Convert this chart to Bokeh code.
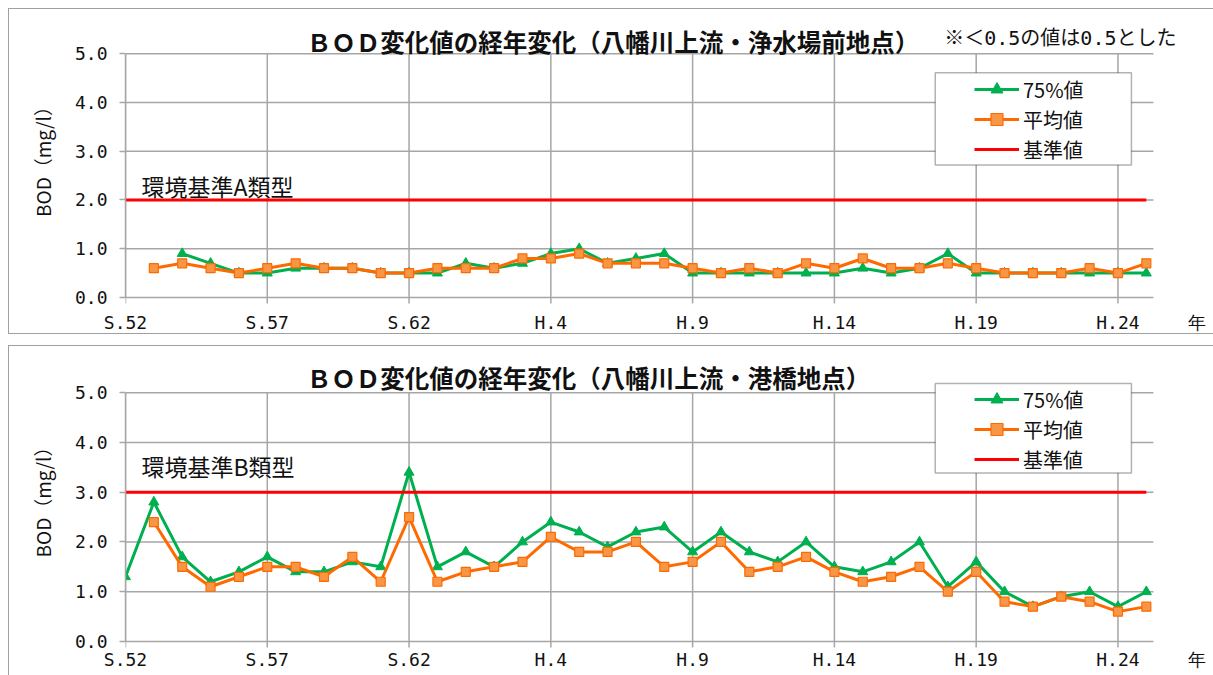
from bokeh.plotting import figure
from bokeh.models import Range1d, FixedTicker, Label, Legend, LegendItem, BoxAnnotation, Spacer
from bokeh.layouts import column, row
from bokeh.embed import file_html
from bokeh.resources import INLINE

nan = float("nan")

# ---------------- data ----------------
years = list(range(1977, 2014))          # S.52 ... H.25
tick_years = [1977, 1982, 1987, 1992, 1997, 2002, 2007, 2012]
tick_labels = ["S.52", "S.57", "S.62", "H.4", "H.9", "H.14", "H.19", "H.24"]
unit_label = "年"
y_ticks = [0, 1, 2, 3, 4, 5]
y_tick_labels = ["0.0", "1.0", "2.0", "3.0", "4.0", "5.0"]

# 八幡川上流・浄水場前地点
top_p75 = [nan, nan, 0.9, 0.7, 0.5, 0.5, 0.6, 0.6, 0.6, 0.5, 0.5,
           0.5, 0.7, 0.6, 0.7, 0.9, 1.0, 0.7, 0.8, 0.9, 0.5,
           0.5, 0.5, 0.5, 0.5, 0.5, 0.6, 0.5, 0.6, 0.9, 0.5,
           0.5, 0.5, 0.5, 0.5, 0.5, 0.5]
top_avg = [nan, 0.6, 0.7, 0.6, 0.5, 0.6, 0.7, 0.6, 0.6, 0.5, 0.5,
           0.6, 0.6, 0.6, 0.8, 0.8, 0.9, 0.7, 0.7, 0.7, 0.6,
           0.5, 0.6, 0.5, 0.7, 0.6, 0.8, 0.6, 0.6, 0.7, 0.6,
           0.5, 0.5, 0.5, 0.6, 0.5, 0.7]
top_std = [2.0] * 37

# 八幡川上流・港橋地点
bot_p75 = [1.3, 2.8, 1.7, 1.2, 1.4, 1.7, 1.4, 1.4, 1.6, 1.5, 3.4,
           1.5, 1.8, 1.5, 2.0, 2.4, 2.2, 1.9, 2.2, 2.3, 1.8,
           2.2, 1.8, 1.6, 2.0, 1.5, 1.4, 1.6, 2.0, 1.1, 1.6,
           1.0, 0.7, 0.9, 1.0, 0.7, 1.0]
bot_avg = [nan, 2.4, 1.5, 1.1, 1.3, 1.5, 1.5, 1.3, 1.7, 1.2, 2.5,
           1.2, 1.4, 1.5, 1.6, 2.1, 1.8, 1.8, 2.0, 1.5, 1.6,
           2.0, 1.4, 1.5, 1.7, 1.4, 1.2, 1.3, 1.5, 1.0, 1.4,
           0.8, 0.7, 0.9, 0.8, 0.6, 0.7]
bot_std = [3.0] * 37

series_names = ["75%値", "平均値", "基準値"]

JP = "Noto Sans CJK JP"
MONO = "DejaVu Sans Mono"
NOTE_FONT = "DejaVu Sans Mono, Noto Sans CJK JP"
GRID = "#a6a6a6"
GREEN = "#00b050"
ORANGE = "#ff6a00"
ORANGE_FILL = "#f79646"
RED = "#ff0000"
TXT = "#111111"

PX_PER_YEAR = 28.33
X0 = 1977
PLOT_RIGHT = 2013.25          # end of the drawn plot area
FRAME_W = 1088                 # frame width in px
BELOW_PX = 7                   # frame bottom lies this many px below the 0.0 line
TICK_PX = 6                    # length of the x tick stubs


def xd(dx_px):
    """px offset from frame left -> data x"""
    return X0 + dx_px / PX_PER_YEAR


def make_panel(title, p75, avg, std, std_text, h, mb_bottom, frame_h, ppu, borders,
               xlab_standoff, std_yoff_px, title_up_px, legend_y, box_top_px, box_bottom_px,
               note=None):
    y_start = -BELOW_PX / ppu
    y_end = y_start + frame_h / ppu
    p = figure(width=1205, height=h, output_backend="svg", toolbar_location=None,
               title=None,
               x_range=Range1d(X0, xd(FRAME_W)), y_range=Range1d(y_start, y_end),
               min_border_left=116, min_border_right=0,
               min_border_top=0, min_border_bottom=mb_bottom)
    p.styles = borders
    p.outline_line_color = None
    p.background_fill_color = "white"
    p.xgrid.visible = False
    p.ygrid.visible = False

    # axes
    xt = tick_years + [xd(1196 - 125)]
    p.xaxis.ticker = FixedTicker(ticks=xt)
    p.xaxis.major_label_overrides = dict(zip(xt, tick_labels + [unit_label]))
    p.yaxis.ticker = FixedTicker(ticks=y_ticks)
    p.yaxis.major_label_overrides = dict(zip(y_ticks, y_tick_labels))
    p.yaxis.bounds = (0, 5)
    for ax in (p.xaxis, p.yaxis):
        ax.axis_line_color = GRID
        ax.axis_line_width = 1.5
        ax.major_tick_line_color = GRID
        ax.major_tick_line_width = 1.5
        ax.major_tick_out = 6
        ax.major_tick_in = 0
        ax.minor_tick_line_color = None
        ax.major_label_text_font = MONO
        ax.major_label_text_font_size = "18px"
        ax.major_label_text_color = TXT
    p.xaxis.axis_line_color = None
    p.xaxis.major_tick_line_color = None
    p.xaxis.major_tick_out = 0
    p.xaxis.major_label_standoff = xlab_standoff
    p.yaxis.major_label_standoff = 12
    p.yaxis.axis_label = "BOD（mg/l）"
    p.yaxis.axis_label_text_font = JP
    p.yaxis.axis_label_text_font_size = "19px"
    p.yaxis.axis_label_text_font_style = "normal"
    p.yaxis.axis_label_text_color = TXT
    p.yaxis.axis_label_standoff = 16

    # grid (limited to the plot area; vertical lines run a little below 0 as tick stubs)
    n = len(tick_years)
    p.segment(x0=tick_years, y0=[-TICK_PX / ppu] * n, x1=tick_years, y1=[5] * n,
              line_color=GRID, line_width=1.5, level="underlay")
    p.segment(x0=[X0] * len(y_ticks), y0=y_ticks, x1=[PLOT_RIGHT] * len(y_ticks), y1=y_ticks,
              line_color=GRID, line_width=1.5, level="underlay")

    # series
    g_line = p.line(years, p75, line_color=GREEN, line_width=3)
    g_mark = p.scatter(years, p75, marker="triangle", size=10, fill_color=GREEN, line_color=GREEN)
    o_line = p.line(years, avg, line_color=ORANGE, line_width=3)
    o_mark = p.scatter(years, avg, marker="square", size=9, fill_color=ORANGE_FILL,
                       line_color=ORANGE, line_width=1.2)
    r_line = p.line(years, std, line_color=RED, line_width=3)

    # title
    p.add_layout(Label(x=xd(306 - 125), y=5 + title_up_px / ppu, text=title,
                       text_font=JP, text_font_size="24.5px", text_font_style="bold",
                       text_color=TXT, text_align="left", text_baseline="middle"))
    if note:
        p.add_layout(Label(x=xd(943 - 125), y=5 + 16 / ppu, text=note,
                           text_font=NOTE_FONT, text_font_size="20px", text_color=TXT,
                           text_baseline="middle"))

    # standard label
    p.add_layout(Label(x=X0, y=std[0], x_offset=16, y_offset=std_yoff_px, text=std_text,
                       text_font=JP, text_font_size="23px", text_color=TXT,
                       text_baseline="bottom"))

    # legend frame + legend
    p.add_layout(BoxAnnotation(left=xd(934 - 125), right=xd(1130 - 125),
                               top=5 + box_top_px / ppu, bottom=5 + box_bottom_px / ppu,
                               fill_color="white", fill_alpha=1.0,
                               line_color="black", line_width=1.5))
    legend = Legend(items=[
        LegendItem(label=series_names[0], renderers=[g_line, g_mark]),
        LegendItem(label=series_names[1], renderers=[o_line, o_mark]),
        LegendItem(label=series_names[2], renderers=[r_line]),
    ], location=(849, legend_y), padding=0, spacing=0, margin=0,
        border_line_color=None, background_fill_alpha=0,
        glyph_width=45, glyph_height=30, label_height=30, label_standoff=4,
        label_text_font=JP, label_text_font_size="20px", label_text_color=TXT)
    p.add_layout(legend)
    return p


b = "1px solid #a0a0a0"
# top panel (borders included in size): frame spans page y 9..303, 5.0 at y=53, 0.0 at y=296
p1 = make_panel("ＢＯＤ変化値の経年変化（八幡川上流・浄水場前地点）", top_p75, top_avg, top_std,
                "環境基準A類型", 326, 30, 294, 48.6,
                {"border-left": b, "border-top": b, "border-bottom": b},
                7, -3, 12.5, 134 + BELOW_PX - 1, -19, -111, note="※＜0.5の値は0.5とした")
# bottom panel: frame spans page y 346..647, 5.0 at y=392, 0.0 at y=640
p2 = make_panel("ＢＯＤ変化値の経年変化（八幡川上流・港橋地点）", bot_p75, bot_avg, bot_std,
                "環境基準B類型", 330, 28, 301, 49.6,
                {"border-left": b, "border-top": b},
                0, 9, 15, 168 + BELOW_PX - 1, 9, -80)

layout = row(Spacer(width=8), column(Spacer(height=8), p1, Spacer(height=11), p2))
open("out.html", "w").write(file_html(layout, INLINE))
